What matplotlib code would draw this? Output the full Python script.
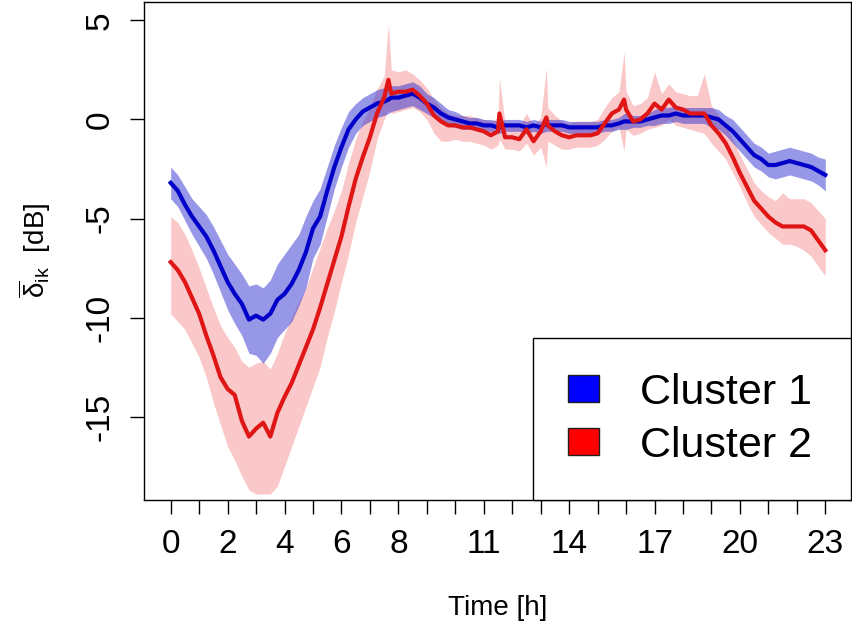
import numpy as np
import matplotlib
matplotlib.use('Agg')
import matplotlib.pyplot as plt
from matplotlib.patches import Patch

plt.rcParams['font.family'] = ['Liberation Sans', 'DejaVu Sans']
plt.rcParams['mathtext.fontset'] = 'custom'
plt.rcParams['mathtext.rm'] = 'Liberation Sans'
plt.rcParams['mathtext.it'] = 'Liberation Sans:italic'

# time of day [h] (quarter hours plus a few short spikes)
hours = [0.00, 0.25, 0.50, 0.75,
         1.00, 1.25, 1.50, 1.75,
         2.00, 2.25, 2.50, 2.75,
         3.00, 3.25, 3.50, 3.75,
         4.00, 4.25, 4.50, 4.75,
         5.00, 5.25, 5.50, 5.75,
         6.00, 6.25, 6.50, 6.75,
         7.00, 7.25, 7.50, 7.65, 7.75,
         8.00, 8.25, 8.50, 8.75,
         9.00, 9.25, 9.50, 9.75,
         10.00, 10.25, 10.50, 10.75,
         11.00, 11.25, 11.50, 11.55, 11.75,
         12.00, 12.25, 12.50, 12.75,
         13.00, 13.20, 13.25, 13.50, 13.75,
         14.00, 14.25, 14.50, 14.75,
         15.00, 15.25, 15.50, 15.75, 15.93,
         16.00, 16.25, 16.50, 16.75,
         17.00, 17.25, 17.50, 17.75,
         18.00, 18.25, 18.50, 18.75,
         19.00, 19.25, 19.50, 19.75,
         20.00, 20.25, 20.50, 20.75,
         21.00, 21.25, 21.50, 21.75,
         22.00, 22.25, 22.50, 22.75,
         23.00]

# cluster 1 mean and band
blue_mean = [-3.2, -3.6, -4.3, -4.9,
             -5.4, -5.9, -6.6, -7.4,
             -8.2, -8.8, -9.3, -10.1,
             -9.9, -10.1, -9.8, -9.1,
             -8.8, -8.3, -7.6, -6.7,
             -5.5, -4.9, -3.6, -2.4,
             -1.4, -0.5, 0.0, 0.4,
             0.6, 0.8, 0.9, 1.0, 1.1,
             1.1, 1.2, 1.3, 1.1,
             0.8, 0.6, 0.3, 0.1,
             0.0, -0.1, -0.2, -0.2,
             -0.3, -0.3, -0.4, -0.4, -0.3,
             -0.3, -0.3, -0.4, -0.3,
             -0.4, -0.2, -0.3, -0.3, -0.3,
             -0.4, -0.4, -0.4, -0.4,
             -0.4, -0.3, -0.3, -0.2, -0.1,
             -0.1, -0.1, -0.1, 0.0,
             0.1, 0.2, 0.2, 0.3,
             0.2, 0.2, 0.2, 0.2,
             0.1, 0.0, -0.3, -0.6,
             -1.0, -1.4, -1.8, -2.0,
             -2.3, -2.3, -2.2, -2.1,
             -2.2, -2.3, -2.4, -2.6,
             -2.8]
blue_lo = [-4.0, -4.4, -5.1, -5.8,
           -6.4, -7.0, -7.8, -8.7,
           -9.6, -10.3, -10.9, -11.8,
           -11.9, -12.3, -11.8, -11.0,
           -10.6, -10.2, -9.4, -8.5,
           -7.0, -6.3, -4.9, -3.5,
           -2.4, -1.4, -0.7, -0.3,
           -0.1, 0.1, 0.2, 0.3, 0.4,
           0.5, 0.6, 0.7, 0.5,
           0.3, 0.1, -0.2, -0.3,
           -0.4, -0.5, -0.5, -0.5,
           -0.6, -0.6, -0.7, -0.7, -0.6,
           -0.6, -0.6, -0.7, -0.6,
           -0.7, -0.6, -0.6, -0.6, -0.6,
           -0.7, -0.7, -0.7, -0.7,
           -0.7, -0.6, -0.6, -0.5, -0.5,
           -0.5, -0.4, -0.4, -0.3,
           -0.3, -0.2, -0.2, -0.1,
           -0.2, -0.2, -0.2, -0.2,
           -0.4, -0.5, -0.8, -1.2,
           -1.6, -2.0, -2.4, -2.6,
           -2.9, -3.0, -2.9, -2.8,
           -2.9, -3.0, -3.1, -3.3,
           -3.6]
blue_hi = [-2.4, -2.8, -3.4, -4.0,
           -4.4, -4.8, -5.4, -6.1,
           -6.8, -7.3, -7.8, -8.4,
           -8.3, -8.5, -8.1, -7.3,
           -6.8, -6.3, -5.8, -4.9,
           -4.1, -3.5, -2.4, -1.3,
           -0.4, 0.4, 0.8, 1.1,
           1.3, 1.5, 1.6, 1.7, 1.7,
           1.7, 1.8, 1.9, 1.7,
           1.3, 1.1, 0.8, 0.5,
           0.4, 0.2, 0.1, 0.1,
           0.0, 0.0, -0.1, -0.1, 0.0,
           0.0, 0.0, -0.1, 0.0,
           -0.1, 0.2, 0.0, 0.0, 0.0,
           -0.1, -0.1, -0.1, -0.1,
           -0.1, 0.0, 0.0, 0.1, 0.3,
           0.3, 0.2, 0.2, 0.3,
           0.5, 0.6, 0.6, 0.7,
           0.6, 0.6, 0.6, 0.6,
           0.6, 0.5, 0.2, 0.0,
           -0.4, -0.8, -1.2, -1.4,
           -1.7, -1.6, -1.5, -1.4,
           -1.5, -1.6, -1.7, -1.9,
           -2.0]

# cluster 2 mean and band
red_mean = [-7.2, -7.6, -8.2, -9.0,
            -9.8, -10.9, -11.9, -13.0,
            -13.6, -13.9, -15.2, -16.0,
            -15.6, -15.3, -16.0, -14.8,
            -14.0, -13.3, -12.4, -11.5,
            -10.6, -9.5, -8.3, -7.1,
            -5.9, -4.4, -3.0, -1.9,
            -0.9, 0.3, 1.1, 2.0, 1.3,
            1.4, 1.4, 1.5, 1.2,
            0.8, 0.2, -0.1, -0.3,
            -0.3, -0.4, -0.4, -0.5,
            -0.6, -0.8, -0.6, 0.3, -0.9,
            -0.9, -1.0, -0.5, -1.1,
            -0.6, 0.1, -0.3, -0.6, -0.8,
            -0.9, -0.8, -0.8, -0.8,
            -0.7, -0.2, 0.3, 0.5, 1.0,
            0.5, -0.1, 0.0, 0.3,
            0.8, 0.5, 1.0, 0.6,
            0.5, 0.3, 0.3, 0.3,
            -0.3, -0.7, -1.2, -1.9,
            -2.7, -3.4, -4.1, -4.5,
            -4.9, -5.2, -5.4, -5.4,
            -5.4, -5.4, -5.6, -6.1,
            -6.6]
red_lo = [-9.8, -10.2, -10.6, -11.3,
          -12.0, -13.0, -14.3, -15.4,
          -16.5, -17.2, -18.0, -18.7,
          -18.9, -18.9, -18.9, -18.5,
          -17.5, -16.5, -15.5, -14.5,
          -13.5, -12.5, -11.0, -9.7,
          -8.2, -6.8, -5.2, -3.9,
          -2.6, -1.0, 0.0, 0.5, 0.3,
          0.4, 0.5, 0.6, 0.4,
          0.0, -0.7, -1.1, -1.1,
          -1.0, -1.1, -1.1, -1.2,
          -1.3, -1.5, -1.3, -1.0, -1.5,
          -1.5, -1.6, -1.2, -1.8,
          -1.4, -2.4, -1.1, -1.3, -1.5,
          -1.5, -1.4, -1.4, -1.4,
          -1.3, -1.0, -0.6, -0.4, -1.6,
          -0.5, -0.8, -0.7, -0.5,
          -0.4, -0.3, 0.0, -0.3,
          -0.4, -0.5, -0.6, -0.7,
          -1.2, -1.6, -2.0, -2.7,
          -3.4, -4.2, -4.9, -5.3,
          -5.7, -6.0, -6.3, -6.3,
          -6.4, -6.6, -6.9, -7.4,
          -7.9]
red_hi = [-4.9, -5.2, -5.8, -6.6,
          -7.5, -8.5, -9.5, -10.4,
          -11.0, -11.5, -12.2, -12.5,
          -12.3, -12.2, -12.6, -11.8,
          -10.8, -10.0, -9.2, -8.5,
          -7.5, -6.5, -5.5, -4.6,
          -3.6, -2.2, -1.0, -0.1,
          0.6, 1.5, 2.2, 4.8, 2.5,
          2.4, 2.5, 2.3, 2.0,
          1.6, 1.0, 0.6, 0.3,
          0.2, 0.2, 0.2, 0.1,
          0.0, -0.1, 0.1, 2.1, -0.2,
          -0.2, -0.3, 0.3, -0.3,
          0.1, 2.6, 0.6, 0.2, -0.1,
          -0.2, -0.1, -0.1, -0.1,
          0.0, 0.6, 1.1, 1.4, 3.4,
          1.4, 0.7, 0.8, 1.1,
          2.4, 1.3, 1.8, 1.4,
          1.3, 1.2, 1.2, 2.3,
          0.7, 0.2, -0.3, -1.0,
          -1.8, -2.5, -3.2, -3.6,
          -3.9, -4.1, -3.7, -4.0,
          -4.0, -4.0, -4.2, -4.6,
          -5.0]

x_ticks = list(range(24))
x_labels = ['0', '', '2', '', '4', '', '6', '', '8', '', '', '11', '', '',
            '14', '', '', '17', '', '', '20', '', '', '23']
y_ticks = [-15, -10, -5, 0, 5]
legend_labels = ['Cluster 1', 'Cluster 2']

fig = plt.figure(figsize=(8.53, 6.34), dpi=100)
ax = fig.add_axes([0.1694, 0.2114, 0.8288, 0.7859])

# bands first, then the mean lines
ax.fill_between(hours, red_lo, red_hi, color='#fac8c8', lw=0)
ax.fill_between(hours, blue_lo, blue_hi, color='#3030d0', alpha=0.5, lw=0)
ax.plot(hours, blue_mean, color='#0000c8', lw=3)
ax.plot(hours, red_mean, color='#e01515', lw=3)

ax.set_xlim(-0.92, 23.92)
ax.set_ylim(-19.2, 5.94)

ax.set_xticks(x_ticks)
ax.set_xticklabels(x_labels)
ax.set_yticks(y_ticks)
ax.set_yticklabels([str(v) for v in y_ticks], rotation=90, va='center')
ax.tick_params(axis='both', direction='out', length=10, width=1,
               labelsize=24, pad=11, color='black')
for sp in ax.spines.values():
    sp.set_linewidth(1)
    sp.set_color('black')

ax.set_xlabel('Time [h]', fontsize=20)
ax.xaxis.set_label_coords(0.5, -0.19)
ax.set_ylabel(r'$\overline{\mathrm{\delta}}_{\mathrm{ik}}$  [dB]', fontsize=20)
ax.yaxis.set_label_coords(-0.13, 0.5)

handles = [Patch(facecolor='#0000ff', edgecolor='#202020', label=legend_labels[0]),
           Patch(facecolor='#ff0000', edgecolor='#202020', label=legend_labels[1])]
leg = ax.legend(handles=handles, loc='lower left',
                bbox_to_anchor=(0.5498, 0.0, 0.4502, 0.323), mode='expand',
                fontsize=31, frameon=True, fancybox=False, framealpha=1,
                edgecolor='black', borderaxespad=0, borderpad=0.8,
                handlelength=0.74, handleheight=0.6, handletextpad=0.95,
                labelspacing=0.3)
leg.get_frame().set_linewidth(1)

fig.savefig('out.png', dpi=100)
